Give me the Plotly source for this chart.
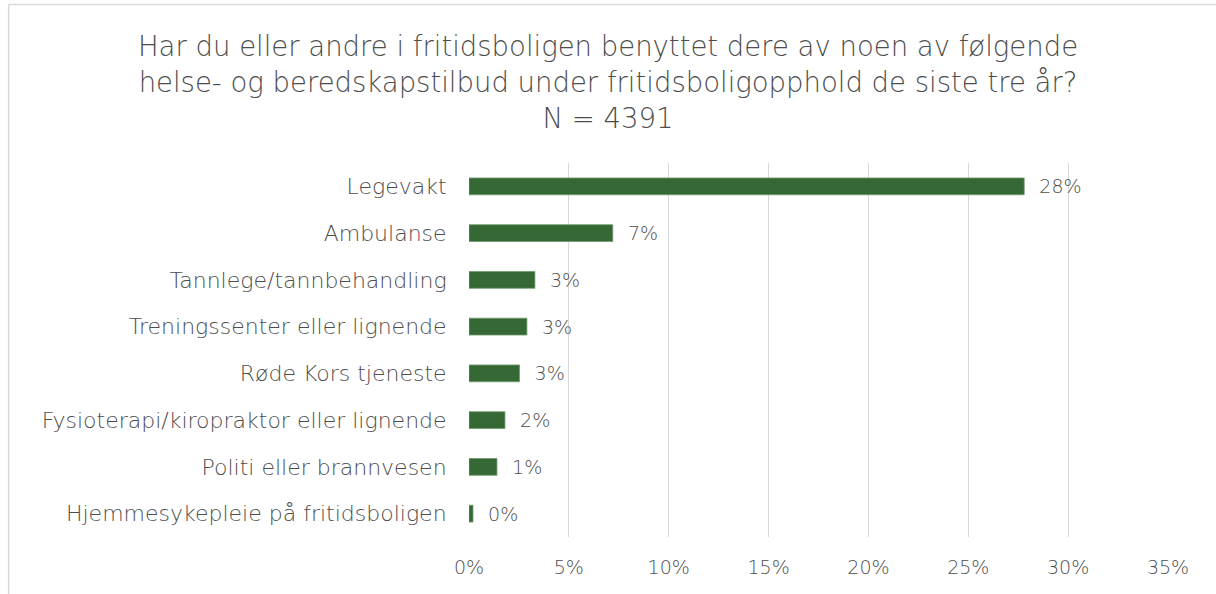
import plotly.graph_objects as go

categories = [
    "Legevakt",
    "Ambulanse",
    "Tannlege/tannbehandling",
    "Treningssenter eller lignende",
    "Røde Kors tjeneste",
    "Fysioterapi/kiropraktor eller lignende",
    "Politi eller brannvesen",
    "Hjemmesykepleie på fritidsboligen",
]
values = [0.278, 0.072, 0.033, 0.029, 0.0253, 0.018, 0.014, 0.002]
tick_vals = [0, 0.05, 0.10, 0.15, 0.20, 0.25, 0.30, 0.35]
tick_text = ["0%", "5%", "10%", "15%", "20%", "25%", "30%", "35%"]
title_text = ("Har du eller andre i fritidsboligen benyttet dere av noen av følgende<br>"
              "helse- og beredskapstilbud under fritidsboligopphold de siste tre år?<br>N = 4391")

FONT = "DejaVu Sans"
TXT = "#4d4d4d"
W, H = 1216, 594
L, R, T, B = 468.5, 47.5, 163, 57
pw, ph = W - L - R, H - T - B

fig = go.Figure(go.Bar(
    x=values, y=categories, orientation="h",
    width=0.36,
    marker=dict(color="#356834", line=dict(color="#6e9a6d", width=0.8)),
    text=[f"{round(v*100):.0f}%" for v in values],
    textposition="outside",
    texttemplate="  %{text}",
    constraintext="none",
    textfont=dict(family=FONT, size=19, color=TXT, weight=300),
    cliponaxis=False,
    hoverinfo="skip",
))

fig.update_layout(
    width=W, height=H,
    margin=dict(l=L, r=R, t=T, b=B, pad=0),
    paper_bgcolor="white", plot_bgcolor="white",
    showlegend=False,
    title=dict(text=title_text, x=0.5, xanchor="center", y=1 - 56 / H, yanchor="top",
               font=dict(family=FONT, size=27.5, color=TXT, weight=300)),
    font=dict(family=FONT, color=TXT),
)
fig.update_xaxes(
    range=[0, 0.35], tickvals=tick_vals, ticktext=tick_text,
    showgrid=True, gridcolor="#d9d9d9", gridwidth=1.3,
    zeroline=False, showline=False,
    ticks="outside", ticklen=13, tickcolor="rgba(0,0,0,0)",
    tickfont=dict(family=FONT, size=19, color=TXT, weight=300),
)
fig.update_yaxes(
    categoryorder="array", categoryarray=categories[::-1],
    showgrid=False, zeroline=False, showline=False,
    ticks="outside", ticklen=17, tickcolor="rgba(0,0,0,0)",
    tickfont=dict(family=FONT, size=22, color=TXT, weight=300),
)

# chart border (light gray frame, top and left visible)
lx = (7.5 - L) / pw
ty = (H - B - 4.5) / ph
fig.add_shape(type="line", xref="paper", yref="paper", x0=lx, x1=1.2, y0=ty, y1=ty,
              line=dict(color="#d9d9d9", width=1.5))
fig.add_shape(type="line", xref="paper", yref="paper", x0=lx, x1=lx, y0=-0.3, y1=ty,
              line=dict(color="#d9d9d9", width=1.5))

fig.write_html("out.html", config={"displayModeBar": False},
               post_script="document.body.style.margin='0';")
